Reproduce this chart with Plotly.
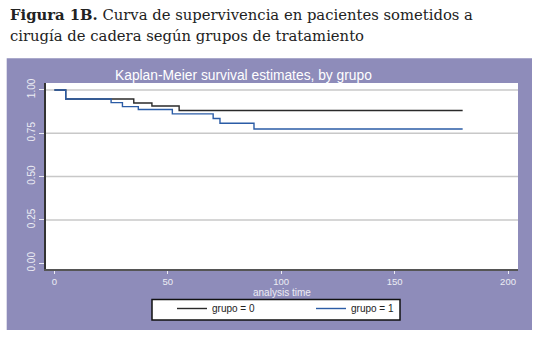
import plotly.graph_objects as go

# ---- data ----
GRUPO0_T = [0, 5, 35, 43, 55, 180]
GRUPO0_S = [1.0, 0.948, 0.925, 0.907, 0.881, 0.881]
GRUPO1_T = [0, 5, 25, 30, 37, 52, 70, 73, 88, 180]
GRUPO1_S = [1.0, 0.948, 0.927, 0.904, 0.887, 0.862, 0.835, 0.808, 0.775, 0.775]
SERIES_NAMES = ["grupo = 0", "grupo = 1"]
X_TICKS = [0, 50, 100, 150, 200]
Y_TICKS = [0.0, 0.25, 0.5, 0.75, 1.0]
Y_TICK_LABELS = ["0.00", "0.25", "0.50", "0.75", "1.00"]
GRID_VALUES = [0.25, 0.5, 0.75, 1.0]

HEADER_1 = "<b>Figura 1B.</b> Curva de supervivencia en pacientes sometidos a"
HEADER_2 = "cirugía de cadera según grupos de tratamiento"
TITLE = "Kaplan-Meier survival estimates, by grupo"
XLABEL = "analysis time"

# ---- layout geometry ----
W, H = 540, 341
L, R, T, B = 46, 22, 83, 72
PW, PH = W - L - R, H - T - B


def px_x(px):
    return (px - L) / PW


def px_y(py):
    return (H - B - py) / PH


PANEL = "#8e8cba"
LIGHT = "#ececf4"
SANS = "Liberation Sans, Arial, sans-serif"

fig = go.Figure()
fig.add_trace(go.Scatter(x=GRUPO0_T, y=GRUPO0_S, mode="lines", name=SERIES_NAMES[0],
                         line=dict(color="#2a2a2a", width=1.4, shape="hv")))
fig.add_trace(go.Scatter(x=GRUPO1_T, y=GRUPO1_S, mode="lines", name=SERIES_NAMES[1],
                         line=dict(color="#2b5ca6", width=1.4, shape="hv")))

shapes = [
    # purple graph region
    dict(type="rect", xref="paper", yref="paper", x0=px_x(6.7), x1=px_x(532),
         y0=px_y(330), y1=px_y(58.3), fillcolor=PANEL, line=dict(width=0), layer="below"),
    # white plot region
    dict(type="rect", xref="paper", yref="paper", x0=0, x1=1, y0=0, y1=1,
         fillcolor="white", line=dict(width=0), layer="below"),
    # legend box
    dict(type="rect", xref="paper", yref="paper", x0=px_x(152), x1=px_x(400),
         y0=px_y(320), y1=px_y(299.5), fillcolor="white",
         line=dict(color="#111111", width=1.5), layer="above"),
]
for v in GRID_VALUES:
    shapes.append(dict(type="line", xref="paper", yref="y", x0=0, x1=1, y0=v, y1=v,
                       line=dict(color="#c8c8c8", width=1.5), layer="below"))

annotations = [
    dict(text=HEADER_1, xref="paper", yref="paper", x=px_x(8), y=px_y(14.5),
         xanchor="left", yanchor="middle", showarrow=False,
         font=dict(family="DejaVu Serif", size=14.8, color="#222222")),
    dict(text=HEADER_2, xref="paper", yref="paper", x=px_x(8), y=px_y(35),
         xanchor="left", yanchor="middle", showarrow=False,
         font=dict(family="DejaVu Serif", size=14.8, color="#222222")),
    dict(text=TITLE, xref="paper", yref="paper", x=px_x(243), y=px_y(75),
         xanchor="center", yanchor="middle", showarrow=False,
         font=dict(family=SANS, size=13.8, color="white")),
    dict(text=XLABEL, xref="paper", yref="paper", x=px_x(282), y=px_y(292.5),
         xanchor="center", yanchor="middle", showarrow=False,
         font=dict(family=SANS, size=10, color=LIGHT)),
]

fig.update_layout(
    width=W, height=H,
    margin=dict(l=L, r=R, t=T, b=B, pad=0, autoexpand=False),
    paper_bgcolor="white", plot_bgcolor="white",
    shapes=shapes, annotations=annotations,
    showlegend=True,
    legend=dict(orientation="h", x=px_x(172), y=px_y(294), xanchor="left", yanchor="top",
                bgcolor="rgba(0,0,0,0)", borderwidth=0,
                font=dict(family=SANS, size=10, color="#222222"),
                entrywidth=94, entrywidthmode="pixels"),
    xaxis=dict(range=[-3.7, 204.4], tickvals=X_TICKS, showgrid=False, zeroline=False,
               showline=True, linecolor="#555555", linewidth=2, automargin=False,
               ticks="outside", ticklen=3, tickcolor=LIGHT, tickwidth=1,
               tickfont=dict(family=SANS, size=9.5, color=LIGHT)),
    yaxis=dict(range=[-0.033, 1.040], tickvals=Y_TICKS, ticktext=Y_TICK_LABELS,
               tickangle=-90, showgrid=False, zeroline=False, automargin=False,
               showline=True, linecolor="#333333", linewidth=2,
               ticks="outside", ticklen=5, tickcolor=LIGHT, tickwidth=1,
               tickfont=dict(family=SANS, size=10, color=LIGHT)),
)

fig.write_html("out.html", config={"displayModeBar": False},
               post_script="document.body.style.margin='0';document.body.style.padding='0';")
